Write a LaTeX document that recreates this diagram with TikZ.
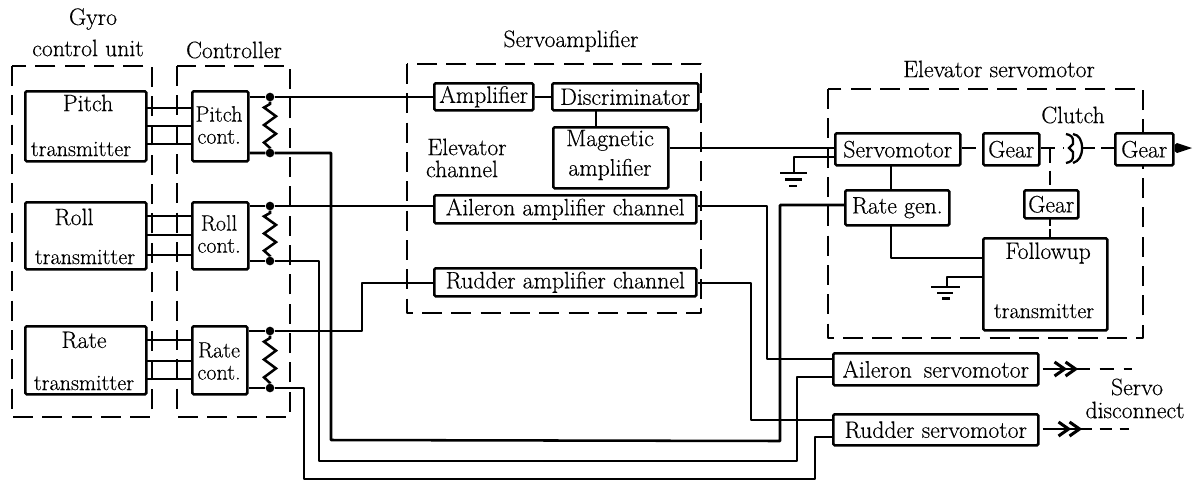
\documentclass[tikz,border=0pt]{standalone}
\usepackage{fontspec}
\newfontfamily\labfont[FakeBold=0.35]{Latin Modern Roman}
\usetikzlibrary{calc}
\tikzset{
  wire/.style={line width=1.9pt,line join=round},
  thin wire/.style={line width=1.4pt,line join=round},
  dbox/.style={line width=1.3pt,dash pattern=on 15pt off 7pt,line join=round},
  sbox/.style={draw,fill=white,line width=1.9pt,rounded corners=1pt,inner sep=0pt},
  gear link/.style={line width=1.4pt,dash pattern=on 11pt off 6pt},
  lab/.style={inner sep=0pt,align=center,font=\labfont\fontsize{17.8}{16}\selectfont},
  small lab/.style={inner sep=0pt,align=center,font=\labfont\fontsize{16.6}{16.6}\selectfont},
  dot/.style={circle,fill=black,inner sep=0pt,minimum size=6.5pt},
}
\newcommand{\bx}[6][]{% name x1 y1 x2 y2
  \node[sbox,minimum width={(#5-#3)*0.75pt},minimum height={(#6-#4)*0.75pt},anchor=north west,#1] (#2) at (#3,#4) {};}
\begin{document}
\begin{tikzpicture}[x=0.75pt,y=-0.75pt]
\useasboundingbox (0,0) rectangle (1195,483);
% dashed enclosures
\draw[dbox] (12,66) rectangle (152,417);
\draw[dbox] (177,66) rectangle (290,417);
\draw[dbox] (407,64) rectangle (701,313);
\draw[dbox] (828,89) rectangle (1143,338);
% transmitter to controller
\foreach \ya/\yb/\yc/\xa/\xb in {108/126/144/145/191, 216/235/255/145/191, 340/361/379/145/191}{
  \draw[thin wire] (\xa,\ya) -- (\xb,\ya);
  \draw[thin wire] (\xa,\yb) -- (\xb,\yb);
  \draw[thin wire] (\xa,\yc) -- (\xb,\yc);
}
% boxes
\bx{pt}{24}{90}{145}{160}
\bx{rt}{24}{201}{145}{268}
\bx{tt}{24}{325}{145}{393}
\bx{pc}{191}{90}{247}{160}
\bx{rc}{191}{201}{247}{268}
\bx{tc}{191}{325}{246}{393}
\bx{amp}{433}{82}{532}{109}
\bx{disc}{551}{82}{697}{109}
\bx{mag}{552}{126}{667}{187}
\bx{aamp}{433}{194}{695}{222}
\bx{ramp}{433}{267}{695}{295}
\bx{sm}{834}{132}{959}{164}
\bx{g1}{982}{132}{1038}{164}
\bx{g3}{1114}{132}{1172}{164}
\bx{rg}{844}{189}{948}{224}
\bx{g2}{1023}{189}{1077}{217}
\bx{fu}{982}{237}{1106}{329}
\bx{as}{832}{352}{1037}{384}
\bx{rs}{832}{413}{1037}{444}
% box texts
\node[lab] (tpt1) at (88,103) {Pitch};
\node[small lab] (tpt2) at (81,149) {transmitter};
\node[lab] (trt1) at (74,217) {Roll};
\node[small lab] (trt2) at (85,257) {transmitter};
\node[lab] (ttt1) at (84,340) {Rate};
\node[small lab] (ttt2) at (84,383) {transmitter};
\node[small lab] (tpc) at (219,125) {Pitch\\cont.};
\node[small lab] (trc) at (219,234) {Roll\\cont.};
\node[small lab] (ttc) at (219,361) {Rate\\cont.};
\node[lab] at (amp) {Amplifier};
\node[lab] at (disc) {Discriminator};
\node[lab] (tmag) at (610,155) {Magnetic\\[5pt]amplifier};
\node[lab] at (aamp) {Aileron amplifier channel};
\node[lab] at (ramp) {Rudder amplifier channel};
\node[lab] at (sm) {Servomotor};
\node[lab] at (g1) {Gear};
\node[lab] at (g3) {Gear};
\node[lab] at (rg) {Rate gen.};
\node[lab] at (g2) {Gear};
\node[lab] (tfu1) at (1048,253) {Followup};
\node[small lab] (tfu2) at (1044,311) {transmitter};
\node[lab] at (as) {Aileron\hspace{0.5em}servomotor};
\node[lab] at (rs) {Rudder servomotor};
% titles
\node[lab] (l1) at (93,19) {Gyro};
\node[lab] (l2) at (88,48) {control unit};
\node[lab] (l3) at (234,50) {Controller};
\node[lab] (l4) at (571,41) {Servoamplifier};
\node[lab] (l5) at (999,69) {Elevator servomotor};
\node[lab] (l6) at (1073,115) {Clutch};
\node[lab] (l7) at (467,147) {Elevator};
\node[lab] (l8) at (462,169) {channel};
\node[lab] (l9) at (1137,387) {Servo};
\node[lab] (l10) at (1135,410) {disconnect};
% resistors
\foreach \n/\ya/\yb in {p/97/153, r/206/261, t/331/388}{
  \node[dot] (d\n a) at (270,\ya) {};
  \node[dot] (d\n b) at (270,\yb) {};
  \draw[line width=1.9pt,line join=miter]
    (d\n a) -- ($(d\n a)+(0,7)$)
    \foreach \k/\s in {1/-6,2/6,3/-6,4/6,5/-6}{ -- ($(d\n a)!{(\k+0.2)/6.4}!(d\n b)+(\s,0)$) }
    -- ($(d\n b)+(0,-5)$) -- (d\n b);
}
% controller outputs
\draw[wire] (pc.east |- dpa) -- (dpa) -- (amp.west |- dpa);
\draw[wire] (rc.east |- dra) -- (dra) -- (aamp.west |- dra);
\coordinate (c1) at (362,331); \coordinate (c2) at (362,283);
\draw[wire] (tc.east |- dta) -- (dta) -- (c1) -- (c2) -- (ramp.west |- c2);
\draw[wire] (pc.east |- dpb) -- (dpb) -- (331,153) -- (331,440) -- (780,441) -- (780,205) -- (rg.west |- 0,205);
\draw[wire] (rc.east |- drb) -- (drb) -- (319,261) -- (319,461) -- (797,461) -- (797,377) -- (as.west |- 0,377);
\draw[wire] (tc.east |- dtb) -- (dtb) -- (304,388) -- (304,479) -- (815,479) -- (815,437) -- (rs.west |- 0,437);
% amp chain
\draw[wire] (amp.east |- 0,97) -- (disc.west |- 0,97);
\draw[wire] (596,109) -- (596,126);
\draw[wire] (mag.east |- 0,148) -- (sm.west |- 0,148);
\draw[wire] (aamp.east |- 0,206) -- (767,206) -- (767,359) -- (as.west |- 0,359);
\draw[wire] (ramp.east |- 0,283) -- (751,283) -- (751,420) -- (rs.west |- 0,420);
% elevator grounds
\coordinate (gnda) at (794,173);
\draw[wire] (sm.west |- 0,157) -- (794,157) -- (gnda);
\draw[wire] (780,173) -- (807,173);
\draw[wire] (785,179.5) -- (802,179.5);
\draw[wire] (789,186) -- (797,186);
\coordinate (gndb) at (947,287);
\draw[thin wire] (fu.west |- 0,277) -- (947,277) -- (gndb);
\draw[wire] (931,287) -- (960,287);
\draw[wire] (937,293) -- (953,293);
\draw[wire] (942,298.5) -- (950,298.5);
% servomotor mechanics
\draw[wire] (891,164) -- (891,189);
\draw[wire] (891,224) -- (891,258) -- (fu.west |- 0,258);
\draw[gear link] (sm.east |- 0,148) -- (g1.west |- 0,148);
\coordinate (cl) at (1064,148);
\draw[gear link] (g1.east |- 0,148) -- (cl);
\draw[gear link] (1050,148) -- (1050,189);
\draw[gear link,dash pattern=on 7pt off 2pt] (1050,217) -- (1050,237);
\draw[thin wire] (1083,148) -- (1095,148);
\draw[thin wire] (1101,148) -- (g3.west |- 0,148);
% clutch
\draw[line width=1.7pt] (1066,134) .. controls (1071,135) and (1073,137) .. (1073,141) -- (1073,144) -- (1069,148) -- (1073,152) -- (1073,156) .. controls (1073,160) and (1071,162) .. (1066,163);
\draw[line width=1.7pt] (1073,134) .. controls (1079,135) and (1082,140) .. (1082,148) .. controls (1082,156) and (1079,161) .. (1073,163);
% output arrow
\coordinate (outtip) at (1192,148);
\fill (g3.east |- 0,145) -- (1177,143) -- (1192,148) -- (1177,153) -- (g3.east |- 0,151) -- cycle;
% servo disconnect
\foreach \s/\y/\e/\t/\don/\doff in {as/369/1132/36/11/7, rs/429/1129/40/9/6}{
  \coordinate (t\s) at (\e,\y);
  \draw[wire] (\s.east |- 0,\y) ++(3,0) -- ++(\t-6,0);
  \draw[wire,line width=2.3pt,line join=miter] (\s.east |- 0,\y) ++(\t-21,-7) -- ++(10,7) -- ++(-10,7);
  \draw[wire,line width=2.3pt,line join=miter] (\s.east |- 0,\y) ++(\t-10,-7) -- ++(10,7) -- ++(-10,7);
  \draw[line width=1.7pt,dash pattern=on \don pt off \doff pt] (\s.east |- 0,\y) ++(\t,0) -- (t\s);
}
\end{tikzpicture}
\end{document}
